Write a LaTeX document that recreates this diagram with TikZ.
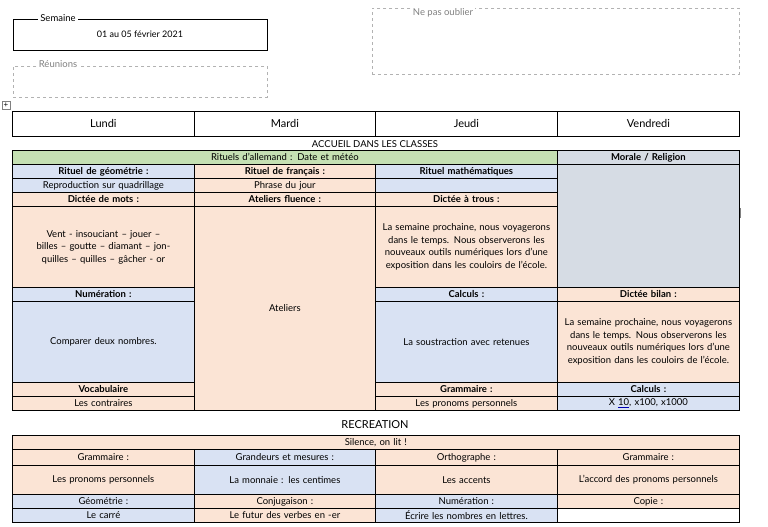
\documentclass[tikz,border=0pt]{standalone}
\usepackage{fontspec}
\setmainfont{Lato}
\usetikzlibrary{positioning}
\definecolor{peach}{HTML}{FBE4D5}
\definecolor{bleu}{HTML}{D9E2F3}
\definecolor{vert}{HTML}{C5E0B3}
\definecolor{gris}{HTML}{D6DCE4}
\tikzset{
  cellule/.style={draw, line width=0.8pt, inner sep=1pt, anchor=north west, align=center,
    font=\fontsize{9.5}{12.5}\selectfont},
  titre/.style={cellule, font=\fontsize{9.5}{12}\selectfont\bfseries},
  cadre/.style={draw, line width=0.8pt, anchor=north west, minimum width=254pt, minimum height=31pt},
}
% \cellule{nom}{style}{x}{y}{largeur}{hauteur}{couleur}{texte}
\newcommand\cellule[8]{\node[#2, fill=#7, minimum width=#5pt, minimum height=#6pt, text width=#5pt-6pt] (#1) at (#3pt,-#4pt) {#8};}
\begin{document}
\begin{tikzpicture}[x=1pt,y=1pt]
  \useasboundingbox (0,0) rectangle (768,-527);

  % Cadres du haut
  \node[cadre] (semaine) at (13,-19) {};
  \node[fill=white, inner sep=2pt, font=\fontsize{9.5}{11}\selectfont] (semainelbl) at (58,-18) {Semaine};
  \node[font=\fontsize{9}{11}\selectfont] (dates) at (140,-34) {01 au 05 février 2021};
  \node[cadre, draw=gray!60, dashed] (reunions) at (13,-66) {};
  \node[fill=white, inner sep=2pt, text=gray, font=\fontsize{9.5}{11}\selectfont] (reunionslbl) at (58,-64) {Réunions};
  \node[cadre, draw=gray!60, dashed, minimum width=367pt, minimum height=66pt] (oubli) at (372,-8) {};
  \node[fill=white, inner sep=2pt, text=gray, font=\fontsize{9.5}{11}\selectfont] (oublilbl) at (443,-13) {Ne pas oublier};
  \node[draw=gray, inner sep=0pt, minimum size=8pt, font=\fontsize{8}{8}\selectfont] (plus) at (6,-105) {+};
  \node[fill=gray, inner sep=0pt, minimum width=2pt, minimum height=10pt] (barre) at (740,-213) {};

  % Jours
  \cellule{lundi}{cellule}{12}{111}{182}{25}{white}{\fontsize{11}{13}\selectfont Lundi}
  \cellule{mardi}{cellule}{194}{111}{181}{25}{white}{\fontsize{11}{13}\selectfont Mardi}
  \cellule{jeudi}{cellule}{375}{111}{182}{25}{white}{\fontsize{11}{13}\selectfont Jeudi}
  \cellule{vendredi}{cellule}{557}{111}{182}{25}{white}{\fontsize{11}{13}\selectfont Vendredi}
  \node[font=\fontsize{9.5}{11}\selectfont] (accueil) at (375,-144) {ACCUEIL DANS LES CLASSES};

  % Matin
  \cellule{allemand}{cellule}{12}{150}{545}{14}{vert}{Rituels d’allemand : Date et météo}
  \cellule{morale}{titre}{557}{150}{182}{14}{gris}{Morale / Religion}
  \cellule{geom}{titre}{12}{164}{182}{14}{bleu}{Rituel de géométrie :}
  \cellule{franc}{titre}{194}{164}{181}{14}{peach}{Rituel de français :}
  \cellule{math}{titre}{375}{164}{182}{14}{bleu}{Rituel mathématiques}
  \cellule{moralec}{cellule}{557}{164}{182}{123}{gris}{}
  \cellule{geomc}{cellule}{12}{178}{182}{14}{bleu}{Reproduction sur quadrillage}
  \cellule{francc}{cellule}{194}{178}{181}{14}{peach}{Phrase du jour}
  \cellule{mathc}{cellule}{375}{178}{182}{14}{bleu}{}
  \cellule{dictee}{titre}{12}{192}{182}{14}{peach}{Dictée de mots :}
  \cellule{fluence}{titre}{194}{192}{181}{14}{peach}{Ateliers fluence :}
  \cellule{trous}{titre}{375}{192}{182}{14}{peach}{Dictée à trous :}
  \cellule{dicteec}{cellule}{12}{206}{182}{81}{peach}{Vent - insouciant – jouer – billes – goutte – diamant – jonquilles – quilles – gâcher - or}
  \cellule{ateliers}{cellule}{194}{206}{181}{204}{peach}{Ateliers}
  \cellule{trousc}{cellule}{375}{206}{182}{81}{peach}{La semaine prochaine, nous voyagerons dans le temps. Nous observerons les nouveaux outils numériques lors d’une exposition dans les couloirs de l’école.}
  \cellule{num}{titre}{12}{287}{182}{14}{bleu}{Numération :}
  \cellule{calc}{titre}{375}{287}{182}{14}{bleu}{Calculs :}
  \cellule{bilan}{titre}{557}{287}{182}{14}{peach}{Dictée bilan :}
  \cellule{numc}{cellule}{12}{301}{182}{81}{bleu}{Comparer deux nombres.}
  \cellule{calcc}{cellule}{375}{301}{182}{81}{bleu}{La soustraction avec retenues}
  \cellule{bilanc}{cellule}{557}{301}{182}{81}{peach}{La semaine prochaine, nous voyagerons dans le temps. Nous observerons les nouveaux outils numériques lors d’une exposition dans les couloirs de l’école.}
  \cellule{voc}{titre}{12}{382}{182}{14}{peach}{Vocabulaire}
  \cellule{gram}{titre}{375}{382}{182}{14}{peach}{Grammaire :}
  \cellule{calcb}{titre}{557}{382}{182}{14}{bleu}{Calculs :}
  \cellule{vocc}{cellule}{12}{396}{182}{14}{peach}{Les contraires}
  \cellule{gramc}{cellule}{375}{396}{182}{14}{peach}{Les pronoms personnels}
  \cellule{calcbc}{cellule}{557}{396}{182}{14}{bleu}{X {\color{blue!70!black}\underline{\color{black}10}}, x100, x1000}

  % Apres la recreation
  \node[font=\fontsize{11}{13}\selectfont] (recre) at (375,-425) {RECREATION};
  \cellule{silence}{cellule}{12}{435}{727}{14}{peach}{Silence, on lit !}
  \cellule{gramA}{cellule}{12}{449}{182}{16}{peach}{Grammaire :}
  \cellule{grand}{cellule}{194}{449}{181}{16}{bleu}{Grandeurs et mesures :}
  \cellule{ortho}{cellule}{375}{449}{182}{16}{peach}{Orthographe :}
  \cellule{gramB}{cellule}{557}{449}{182}{16}{peach}{Grammaire :}
  \cellule{gramAc}{cellule}{12}{465}{182}{29}{peach}{Les pronoms personnels}
  \cellule{grandc}{cellule}{194}{465}{181}{29}{bleu}{La monnaie : les centimes}
  \cellule{orthoc}{cellule}{375}{465}{182}{29}{peach}{Les accents}
  \cellule{gramBc}{cellule}{557}{465}{182}{29}{peach}{L’accord des pronoms personnels}
  \cellule{geo}{cellule}{12}{494}{182}{14}{bleu}{Géométrie :}
  \cellule{conj}{cellule}{194}{494}{181}{14}{peach}{Conjugaison :}
  \cellule{numb}{cellule}{375}{494}{182}{14}{bleu}{Numération :}
  \cellule{copie}{cellule}{557}{494}{182}{14}{peach}{Copie :}
  \cellule{geoc}{cellule}{12}{508}{182}{14}{bleu}{Le carré}
  \cellule{conjc}{cellule}{194}{508}{181}{14}{peach}{Le futur des verbes en -er}
  \cellule{numbc}{cellule}{375}{508}{182}{14}{bleu}{Écrire les nombres en lettres.}
  \cellule{copiec}{cellule}{557}{508}{182}{14}{white}{}
\end{tikzpicture}
\end{document}
